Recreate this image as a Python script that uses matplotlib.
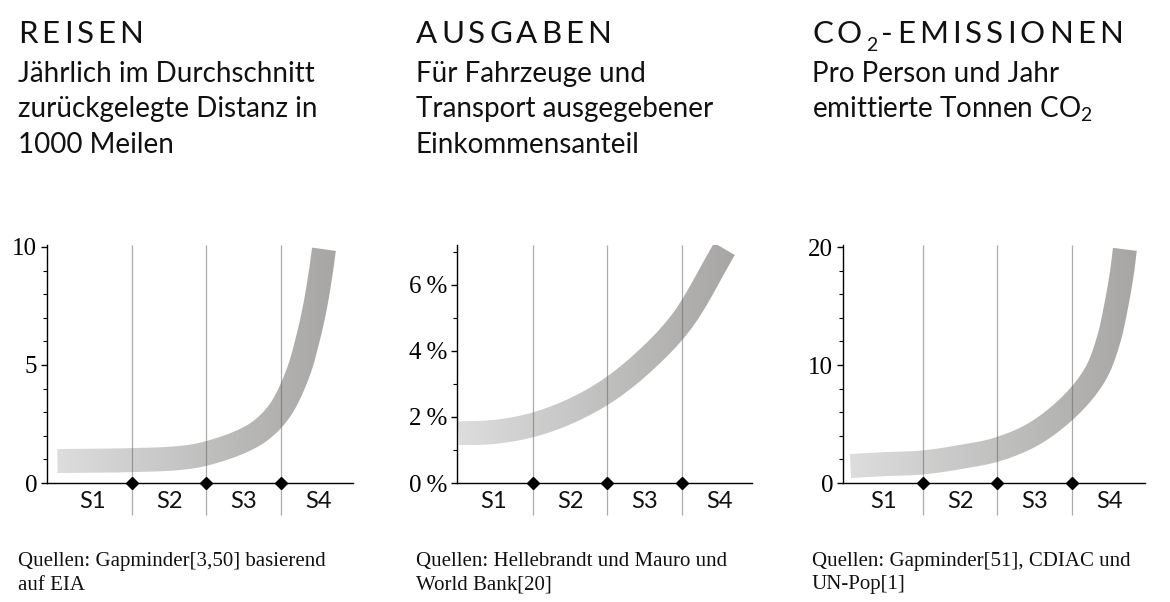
import numpy as np
import matplotlib
matplotlib.use("Agg")
import matplotlib.pyplot as plt
from matplotlib.patches import Polygon
from matplotlib.colors import LinearSegmentedColormap
from matplotlib.font_manager import FontProperties

plt.rcParams['font.family'] = ['Lato', 'DejaVu Sans']
plt.rcParams['mathtext.fontset'] = 'custom'
plt.rcParams['mathtext.rm'] = 'Lato'
plt.rcParams['mathtext.it'] = 'Lato:italic'
plt.rcParams['mathtext.bf'] = 'Lato:bold'

# --- data ---
stages = ['S1', 'S2', 'S3', 'S4']

# titles: (main text, subscript, rest)
titles = [('REISEN', '', ''), ('AUSGABEN', '', ''), ('CO', '2', '-EMISSIONEN')]
subtitles = [
    'Jährlich im Durchschnitt\nzurückgelegte Distanz in\n1000 Meilen',
    'Für Fahrzeuge und\nTransport ausgegebener\nEinkommensanteil',
    'Pro Person und Jahr\nemittierte Tonnen CO$_2$',
]
sources = [
    'Quellen: Gapminder[3,50] basierend\nauf EIA',
    'Quellen: Hellebrandt und Mauro und\nWorld Bank[20]',
    'Quellen: Gapminder[51], CDIAC und\nUN-Pop[1]',
]

# curve centre lines (x = position along S1..S4, y = value)
travel_x = [0.0, 1.0, 1.64, 2.0, 2.5, 2.76, 3.0, 3.23, 3.36, 3.46, 3.535, 3.58]
travel_y = [0.93, 0.97, 1.06, 1.25, 1.8, 2.3, 3.13, 4.65, 6.06, 7.47, 8.88, 9.9]

spend_x = [0.0, 0.5, 1.0, 1.5, 2.0, 2.5, 3.0, 3.57]
spend_y = [1.5, 1.55, 1.76, 2.17, 2.79, 3.69, 4.9, 7.08]

co2_x = [0.03, 0.5, 1.0, 1.5, 2.0, 2.5, 3.0, 3.32, 3.49, 3.59, 3.67, 3.71]
co2_y = [1.44, 1.6, 1.74, 2.2, 2.85, 4.2, 6.7, 9.3, 12.1, 14.9, 17.8, 19.8]

curves = [(travel_x, travel_y), (spend_x, spend_y), (co2_x, co2_y)]

yticks = [[0, 5, 10], [0, 2, 4, 6], [0, 10, 20]]
yticklabels = [['0', '5', '10'], ['0\u2009%', '2\u2009%', '4\u2009%', '6\u2009%'], ['0', '10', '20']]
yminor = [np.arange(0, 11, 1), np.arange(0, 8, 1), np.arange(0, 21, 2)]
ylims = [(0, 10.08), (0, 7.2), (0, 20.17)]
xlims = [(-0.14, 3.97), (-0.02, 3.94), (-0.07, 3.98)]

# layout in pixels
W, H = 1170, 602
ax_left = [47, 457, 843]
ax_right = [353, 752, 1145]
ax_top, ax_bottom = 245, 483
text_x = [18, 416, 812]

band_px = 24
cmap = LinearSegmentedColormap.from_list('band', ['#dddddd', '#a7a6a5'])
ink = '#111111'


def catmull_rom(P, n=30):
    # centripetal Catmull-Rom through points P (display coords)
    P = np.asarray(P, float)
    P = np.vstack([2 * P[0] - P[1], P, 2 * P[-1] - P[-2]])
    out = []
    for i in range(1, len(P) - 2):
        p0, p1, p2, p3 = P[i - 1], P[i], P[i + 1], P[i + 2]
        t0 = 0.0
        t1 = t0 + np.linalg.norm(p1 - p0) ** 0.5
        t2 = t1 + np.linalg.norm(p2 - p1) ** 0.5
        t3 = t2 + np.linalg.norm(p3 - p2) ** 0.5
        t = np.linspace(t1, t2, n, endpoint=False)[:, None]
        a1 = (t1 - t) / (t1 - t0) * p0 + (t - t0) / (t1 - t0) * p1
        a2 = (t2 - t) / (t2 - t1) * p1 + (t - t1) / (t2 - t1) * p2
        a3 = (t3 - t) / (t3 - t2) * p2 + (t - t2) / (t3 - t2) * p3
        b1 = (t2 - t) / (t2 - t0) * a1 + (t - t0) / (t2 - t0) * a2
        b2 = (t3 - t) / (t3 - t1) * a2 + (t - t1) / (t3 - t1) * a3
        out.append((t2 - t) / (t2 - t1) * b1 + (t - t1) / (t2 - t1) * b2)
    out.append(P[-2][None, :])
    return np.vstack(out)


fig = plt.figure(figsize=(W / 100, H / 100), dpi=100)
renderer = fig.canvas.get_renderer()


def tracked(x, y, s, size, track):
    # letter-spaced text, x/y in pixels (baseline); returns end x
    prop = FontProperties(family='Lato', size=size)
    for k, ch in enumerate(s):
        w = renderer.get_text_width_height_descent(s[:k], prop, ismath=False)[0] if k else 0
        fig.text((x + w + k * track) / W, 1 - y / H, ch, fontproperties=prop,
                 va='baseline', color=ink)
    w = renderer.get_text_width_height_descent(s, prop, ismath=False)[0]
    return x + w + len(s) * track


for i in range(3):
    l, r = ax_left[i], ax_right[i]
    ax = fig.add_axes([l / W, 1 - ax_bottom / H, (r - l) / W, (ax_bottom - ax_top) / H])
    ax.set_xlim(*xlims[i])
    ax.set_ylim(*ylims[i])

    # thick gradient band along the curve
    cx, cy = curves[i]
    pts = ax.transData.transform(np.column_stack([cx, cy]))
    line = catmull_rom(pts)
    d = np.gradient(line, axis=0)
    d /= np.linalg.norm(d, axis=1)[:, None]
    nrm = np.column_stack([-d[:, 1], d[:, 0]])
    upper = line + nrm * band_px / 2
    lower = line - nrm * band_px / 2
    poly = ax.transData.inverted().transform(np.vstack([upper, lower[::-1]]))
    patch = Polygon(poly, closed=True, facecolor='none', edgecolor='none')
    ax.add_patch(patch)
    x0, x1 = poly[:, 0].min(), poly[:, 0].max()
    y0, y1 = poly[:, 1].min(), poly[:, 1].max()
    grad = np.linspace(0, 1, 256)[None, :]
    im = ax.imshow(grad, cmap=cmap, extent=(x0, x1, y0, y1), aspect='auto',
                   origin='lower', zorder=1, interpolation='bilinear')
    im.set_clip_path(patch)
    ax.set_xlim(*xlims[i])
    ax.set_ylim(*ylims[i])

    # stage dividers
    ax.vlines([1, 2, 3], -(515 - ax_bottom) / (ax_bottom - ax_top), 1,
              transform=ax.get_xaxis_transform(), colors='#666666',
              alpha=0.55, linewidth=0.9, zorder=2, clip_on=False)
    ax.plot([1, 2, 3], [0, 0, 0], 'D', color='black', markersize=6,
            zorder=5, clip_on=False)
    for k, s in enumerate(stages):
        xs = 0.47 if k == 0 else k + 0.5
        ax.text(xs, -(501 - ax_bottom) / (ax_bottom - ax_top), s,
                transform=ax.get_xaxis_transform(), ha='center', va='center',
                fontsize=17, color=ink)

    for sp in ['top', 'right']:
        ax.spines[sp].set_visible(False)
    ax.spines['left'].set_linewidth(1.0)
    ax.spines['bottom'].set_linewidth(1.0)
    ax.set_xticks([])
    ax.set_yticks(yticks[i])
    ax.set_yticklabels(yticklabels[i], family=['Liberation Serif', 'DejaVu Serif'], fontsize=18)
    ax.set_yticks(yminor[i], minor=True)
    ax.tick_params(axis='y', which='major', length=4, width=1.0, pad=3)
    ax.tick_params(axis='y', which='minor', length=3, width=0.8)
    ax.set_facecolor('none')

    # title (letter-spaced), subtitle, source
    main, sub, rest = titles[i]
    xe = tracked(text_x[i], 43, main, 22.5, 4)
    if sub:
        fig.text(xe / W, 1 - 51 / H, sub, fontsize=14, va='baseline', color=ink)
        xe += renderer.get_text_width_height_descent(
            sub, FontProperties(family='Lato', size=14), ismath=False)[0] + 4
        tracked(xe, 43, rest, 22.5, 4)

    tx = text_x[i] / W
    for j, ln in enumerate(subtitles[i].split('\n')):
        fig.text(tx, 1 - (82 + 35.5 * j) / H, ln, fontsize=20, va='baseline', color=ink)
    for j, ln in enumerate(sources[i].split('\n')):
        fig.text(tx, 1 - (566 + 23.5 * j) / H, ln, fontsize=15, va='baseline',
                 family='Liberation Serif', color=ink)

fig.savefig('out.png', dpi=100)
